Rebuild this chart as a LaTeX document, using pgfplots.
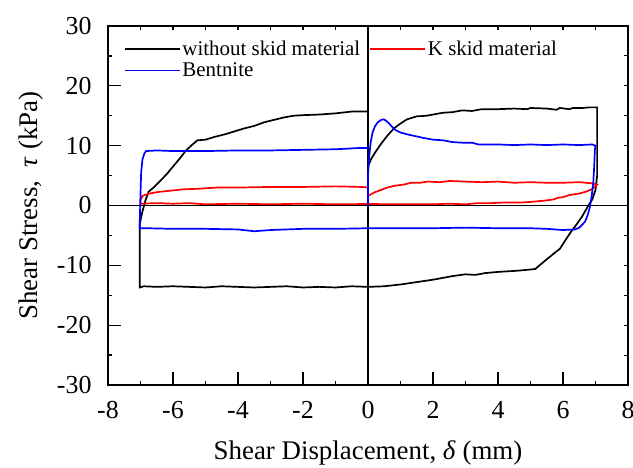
\documentclass[border=0pt]{standalone}
\usepackage{pgfplots}
\pgfplotsset{compat=1.18}
\usepackage{fontspec}
\setmainfont{Liberation Serif}

\begin{document}
\begin{tikzpicture}
\pgfplotsset{
  loopbox/.style={
    width=520bp, height=359bp, scale only axis,
    at={(0,0)}, anchor=south west,
    xmin=-8, xmax=8, ymin=-30, ymax=30,
    xtick={-8,-6,...,8}, minor x tick num=1,
    ytick={-30,-20,...,30}, minor y tick num=1,
    tick align=inside,
  },
}
\path[use as bounding box] (-108bp,-83bp) rectangle (525bp,385bp);

% short ticks on the top and right edges
\begin{axis}[loopbox,
  axis line style={draw=none},
  xtick pos=right, ytick pos=right,
  xticklabels={}, yticklabels={},
  major tick length=4bp, minor tick length=4bp,
  every tick/.style={black, line width=1.1bp},
]
\end{axis}

\begin{axis}[loopbox,
  axis line style={line width=1.4bp},
  xtick pos=left, ytick pos=left,
  major tick length=13bp, minor tick length=4bp,
  every tick/.style={black, line width=1.2bp},
  xticklabels={-8,-6,-4,-2,0,2,4,6,8},
  yticklabels={-30,-20,-10,0,10,20,30},
  tick label style={font=\fontspec{Liberation Serif}\fontsize{26}{30}\selectfont},
  xticklabel style={yshift=-13bp},
  yticklabel style={xshift=-13bp},
  label style={font=\fontsize{27}{32}\selectfont},
  xlabel={Shear Displacement, \textit{δ} (mm)},
  ylabel={Shear Stress,\ \ \textit{τ} (kPa)},
  xlabel style={at={(axis description cs:0.5,-0.19)}, anchor=center},
  ylabel style={at={(axis description cs:-0.148,0.5)}, anchor=center},
  legend columns=2,
  legend cell align=left,
  legend style={draw=none, fill=none, font=\fontsize{21}{24}\selectfont,
    at={(axis description cs:0.03,0.97)}, anchor=north west,
    row sep=2bp, inner xsep=0bp,
    /tikz/every even column/.append style={column sep=7bp}},
  legend image code/.code={\draw[#1] (0bp,0bp) -- (55bp,0bp);},
]
% reference lines through the origin
\addplot[black, line width=1.4bp, forget plot] coordinates {(-8,0) (8,0)};
\addplot[black, line width=1.4bp, forget plot] coordinates {(0,-30) (0,30)};

% without skid material
\addplot[black, line width=1.7bp] coordinates {
(0,0) (0,6.5) (0.1,7.8) (0.2,8.7) (0.4,10.3) (0.6,11.7) (0.8,12.9) (1.0,13.7)
(1.2,14.4) (1.5,14.9) (1.8,15.0) (2.0,15.2) (2.3,15.5) (2.6,15.6) (2.9,15.9)
(3.2,15.8) (3.5,16.1) (4.0,16.1) (4.5,16.2) (4.9,16.1) (5.0,16.3) (5.5,16.2)
(5.8,16.0) (5.9,16.3) (6.2,16.1) (6.3,16.3) (6.6,16.3) (6.8,16.4) (7.05,16.4)
(7.05,5.0) (7.0,2.6) (6.9,1.0) (6.78,0) (6.58,-1.9) (6.4,-3.3) (6.22,-4.6)
(6.05,-6.0) (5.91,-7.2) (5.7,-8.1) (5.5,-9.0) (5.3,-9.9) (5.15,-10.6)
(5.0,-10.7) (4.6,-10.9) (4.3,-11.0) (4.0,-11.1) (3.6,-11.3) (3.3,-11.6)
(3.0,-11.5) (2.6,-11.8) (2.3,-12.1) (2.0,-12.4) (1.5,-12.8) (1.0,-13.2)
(0.5,-13.5) (0,-13.6) (-0.5,-13.5) (-1.0,-13.7) (-1.5,-13.6) (-2.0,-13.7)
(-2.5,-13.5) (-3.0,-13.6) (-3.5,-13.7) (-4.0,-13.6) (-4.5,-13.5) (-5.0,-13.7)
(-5.5,-13.6) (-6.0,-13.5) (-6.5,-13.6) (-6.9,-13.5) (-7.02,-13.7)
(-7.02,-3.0) (-6.95,-1.2) (-6.85,0.8) (-6.75,2.3) (-6.6,3.0) (-6.45,3.8)
(-6.2,5.2) (-6.0,6.5) (-5.8,7.8) (-5.6,9.2) (-5.4,10.2) (-5.25,10.9)
(-5.0,11.0) (-4.7,11.5) (-4.4,11.9) (-4.1,12.4) (-3.8,12.9) (-3.5,13.3)
(-3.2,13.9) (-2.9,14.3) (-2.6,14.7) (-2.3,15.0) (-2.0,15.1) (-1.5,15.2)
(-1.0,15.4) (-0.5,15.7) (0,15.7)
};

% K skid material
\addplot[red, line width=1.7bp] coordinates {
(0,0) (0,1.6) (0.2,2.2) (0.4,2.6) (0.6,3.0) (0.82,3.3) (1.1,3.5) (1.33,3.8)
(1.6,3.8) (1.85,4.0) (2.2,3.9) (2.5,4.1) (3.0,4.0) (3.5,3.9) (4.0,4.0)
(4.5,3.8) (5.0,3.9) (5.5,3.8) (6.0,3.8) (6.5,3.9) (6.9,3.7) (7.05,3.5)
(6.95,3.0) (6.88,2.7) (6.7,2.3) (6.5,2.0) (6.2,1.75) (6.0,1.4) (5.85,1.3)
(5.7,1.0) (5.4,0.8) (5.0,0.6) (4.7,0.5) (4.2,0.5) (3.8,0.4) (3.4,0.4)
(3.0,0.2) (2.5,0.3) (2.0,0.2) (1.0,0.2) (0,0.25) (-1.0,0.2) (-2.0,0.3)
(-3.0,0.2) (-4.0,0.3) (-5.0,0.2) (-5.5,0.4) (-6.0,0.3) (-6.5,0.4) (-7.0,0.3)
(-7.0,0.9) (-6.94,1.6) (-6.8,1.9) (-6.63,2.1) (-6.4,2.3) (-6.21,2.4)
(-5.7,2.7) (-5.2,2.8) (-4.66,3.0) (-4.0,3.0) (-3.0,3.1) (-2.0,3.1)
(-1.0,3.2) (-0.2,3.1) (0,3.0)
};

% Bentnite
\addplot[blue, line width=1.7bp] coordinates {
(0,0) (0,5.0) (0.03,7.7) (0.08,10.5) (0.14,12.2) (0.22,13.3) (0.3,13.9)
(0.4,14.3) (0.48,14.4) (0.55,14.2) (0.65,13.7) (0.75,13.1) (0.85,12.6)
(1.0,12.2) (1.2,11.9) (1.45,11.6) (1.7,11.3) (2.0,11.0) (2.3,10.9)
(2.6,10.6) (2.9,10.5) (3.2,10.5) (3.4,10.2) (4.0,10.2) (4.5,10.1) (5.0,10.2)
(5.5,10.1) (6.0,10.2) (6.5,10.1) (6.9,10.2) (7.0,10.0) (6.98,9.3)
(6.96,6.5) (6.93,3.7) (6.88,1.5) (6.83,-0.2) (6.76,-1.6) (6.68,-2.7)
(6.5,-3.7) (6.37,-4.0) (6.0,-4.1) (5.5,-3.9) (5.0,-3.8) (4.0,-3.8)
(3.0,-3.7) (2.0,-3.8) (1.0,-3.8) (0,-3.8) (-1.0,-3.9) (-2.0,-3.9)
(-3.0,-4.1) (-3.5,-4.3) (-4.0,-4.0) (-5.0,-3.9) (-6.0,-3.9) (-6.8,-3.8)
(-7.02,-3.8)
(-7.02,-2.3) (-7.0,2.0) (-6.98,5.5) (-6.94,7.7) (-6.88,8.7) (-6.83,9.1)
(-6.5,9.2) (-6.0,9.1) (-5.0,9.1) (-4.0,9.2) (-3.0,9.2) (-2.0,9.3) (-1.0,9.4)
(-0.3,9.6) (0,9.6)
};

\legend{without skid material, K skid material, Bentnite}
\end{axis}
\end{tikzpicture}
\end{document}
